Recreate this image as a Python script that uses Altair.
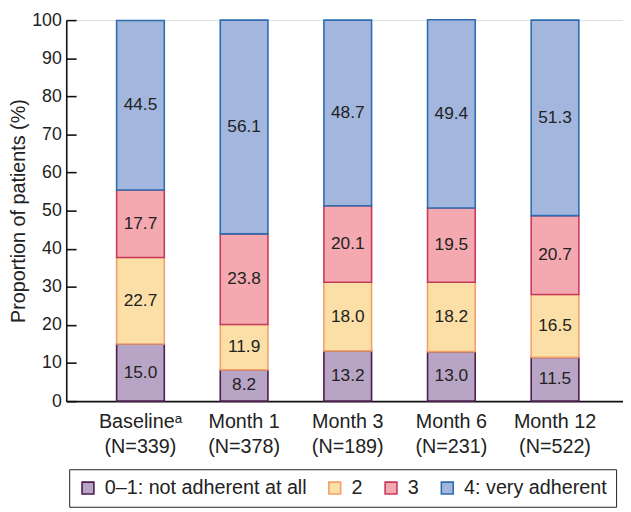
import altair as alt
import pandas as pd

categories = ["Baselineᵃ", "Month 1", "Month 3", "Month 6", "Month 12"]
n_values = [339, 378, 189, 231, 522]
levels = ["0–1: not adherent at all", "2", "3", "4: very adherent"]

v_01 = [15.0, 8.2, 13.2, 13.0, 11.5]
v_2 = [22.7, 11.9, 18.0, 18.2, 16.5]
v_3 = [17.7, 23.8, 20.1, 19.5, 20.7]
v_4 = [44.5, 56.1, 48.7, 49.4, 51.3]

fill_colors = ["#b8a4c4", "#fcdfa7", "#f4a9b1", "#a3b7de"]
stroke_colors = ["#4a1d4e", "#f2a06c", "#c63a5c", "#2e6cb0"]

series = [v_01, v_2, v_3, v_4]
rows = []
for li, (lev, vals) in enumerate(zip(levels, series)):
    for ci, (cat, n) in enumerate(zip(categories, n_values)):
        rows.append({
            "cat": f"{cat}\n(N={n})",
            "level": lev,
            "li": li,
            "value": vals[ci],
            "label": f"{vals[ci]:.1f}",
        })
df = pd.DataFrame(rows)
cat_order = [f"{c}\n(N={n})" for c, n in zip(categories, n_values)]

W, H = 564, 386
FONT = "Liberation Sans"
TXT = "#222222"
TICKS = list(range(0, 101, 10))

base = alt.Chart(df).transform_stack(
    stack="value", groupby=["cat"], sort=[alt.SortField("li")], as_=["y0", "y1"]
).transform_calculate(mid="(datum.y0 + datum.y1) / 2")

xenc = alt.X(
    "cat:N",
    sort=cat_order,
    title=None,
    scale=alt.Scale(paddingInner=0.54, paddingOuter=0.456, align=0.533),
    axis=alt.Axis(
        labelExpr="split(datum.label, '\\n')",
        labelAngle=0,
        labelFontSize=20,
        labelLineHeight=25,
        labelPadding=11,
        labelColor=TXT,
        labelFont=FONT,
        ticks=False,
        domainColor="#111111",
        domainWidth=1.6,
    ),
)

yscale = alt.Scale(domain=[0, 100], nice=False)

bars = base.mark_bar(strokeWidth=1.6).encode(
    x=xenc,
    y=alt.Y(
        "y0:Q",
        scale=yscale,
        title="Proportion of patients (%)",
        axis=alt.Axis(
            values=TICKS,
            ticks=False,
            grid=False,
            labelFontSize=18,
            labelPadding=5,
            labelColor=TXT,
            labelFont=FONT,
            titleFont=FONT,
            titleFontSize=20,
            titleFontWeight="normal",
            titleColor=TXT,
            titlePadding=3,
            domainColor="#111111",
            domainWidth=1.6,
        ),
    ),
    y2="y1:Q",
    fill=alt.Fill(
        "level:N",
        sort=levels,
        scale=alt.Scale(domain=levels, range=fill_colors),
        title=None,
        legend=alt.Legend(
            orient="none",
            direction="horizontal",
            legendX=3,
            legendY=455,
            strokeColor="#222222",
            padding=9,
            symbolType="square",
            symbolSize=144,
            symbolStrokeWidth=1.6,
            labelFontSize=20,
            labelFont=FONT,
            labelColor=TXT,
            labelLimit=400,
            labelOffset=7,
            columnPadding=18,
            symbolOffset=0,
        ),
    ),
    stroke=alt.Stroke(
        "level:N",
        sort=levels,
        scale=alt.Scale(domain=levels, range=stroke_colors),
        title=None,
    ),
    order=alt.Order("li:Q", sort="ascending"),
)

texts = base.mark_text(fontSize=17.5, font=FONT, color=TXT).encode(
    x=xenc,
    y=alt.Y(
        "mid:Q",
        scale=yscale,
        title=None,
        axis=alt.Axis(
            orient="right",
            offset=-W,
            values=TICKS,
            labels=False,
            ticks=True,
            tickSize=10,
            tickWidth=1.6,
            tickColor="#111111",
            domain=False,
            grid=False,
        ),
    ),
    text="label:N",
)

chart = (
    alt.layer(bars, texts)
    .resolve_axis(y="independent")
    .properties(
        width=W,
        height=H,
        autosize=alt.AutoSizeParams(type="none"),
        padding={"left": 59, "top": 9, "right": 0, "bottom": 108},
    )
    .configure_view(stroke=None)
    .configure(font=FONT)
)

chart.save("out.html", embed_options={"renderer": "svg", "actions": False})
